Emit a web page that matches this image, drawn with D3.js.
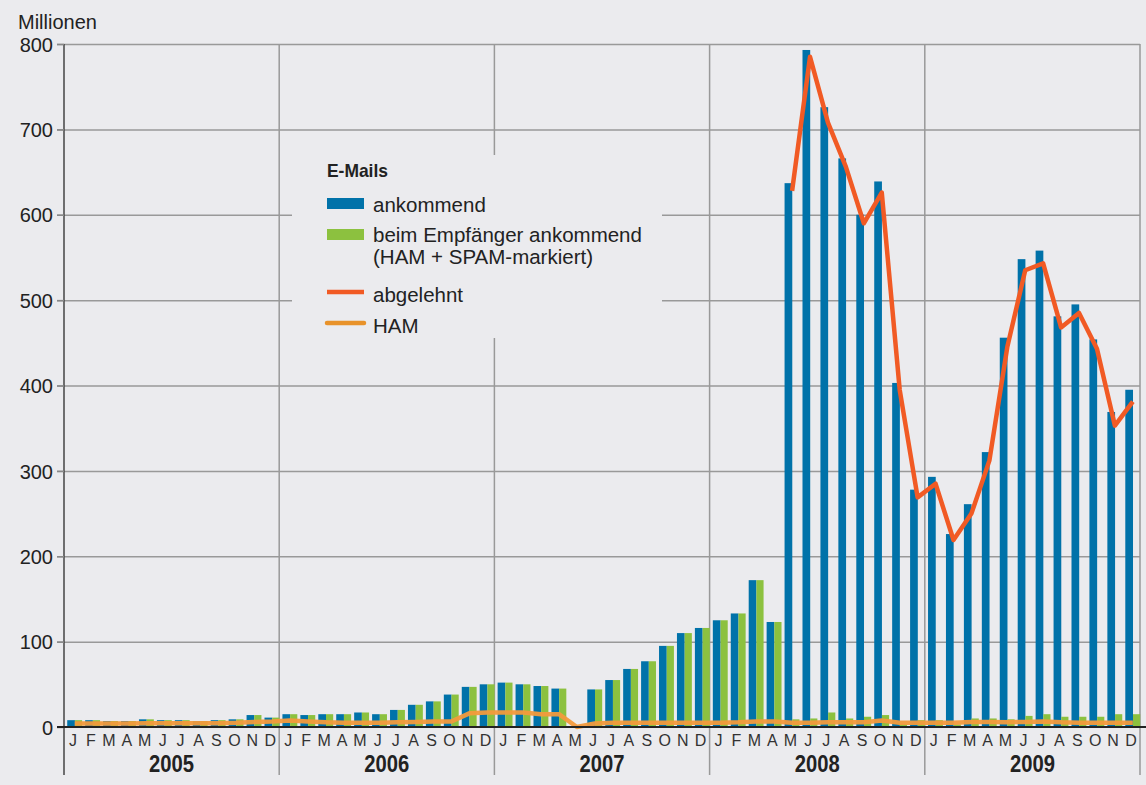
<!DOCTYPE html>
<html>
<head>
<meta charset="utf-8">
<script src="https://cdn.jsdelivr.net/npm/d3@7"></script>
<style>
  body { margin: 0; background: #ebebee; }
  svg { display: block; font-family: "Liberation Sans", Arial, sans-serif; }
  .narrow { font-family: "Liberation Sans Narrow", "Liberation Sans", Arial, sans-serif; font-stretch: condensed; }
</style>
</head>
<body>
<svg id="chart" width="1146" height="785"></svg>
<script>
const years = ["2005", "2006", "2007", "2008", "2009"];
const monthLetters = ["J", "F", "M", "A", "M", "J", "J", "A", "S", "O", "N", "D"];
const yTicks = [0, 100, 200, 300, 400, 500, 600, 700, 800];

// ankommend (Mio.)
const ankommend = [
  8, 8, 7, 7, 9, 8, 8, 7, 8, 9, 14, 11,
  15, 14, 15, 15, 17, 15, 20, 26, 30, 38, 47, 50,
  52, 50, 48, 45, 0, 44, 55, 68, 77, 95, 110, 116,
  125, 133, 172, 123, 637, 793, 726, 666, 600, 639, 403, 278,
  293, 226, 261, 322, 456, 548, 558, 481, 495, 454, 369, 395
];
// beim Empfänger ankommend (HAM + SPAM-markiert)
const beimEmpfaenger = [
  8, 8, 7, 7, 9, 8, 8, 7, 8, 9, 14, 11,
  15, 14, 15, 15, 17, 15, 20, 26, 30, 38, 47, 50,
  52, 50, 48, 45, 0, 44, 55, 68, 77, 95, 110, 116,
  125, 133, 172, 123, 9, 10, 17, 10, 12, 14, 3, 8,
  8, 3, 10, 10, 9, 13, 15, 12, 12, 12, 15, 15
];
// abgelehnt, erst ab Mai 2008
const abgelehnt = [
  null, null, null, null, null, null, null, null, null, null, null, null,
  null, null, null, null, null, null, null, null, null, null, null, null,
  null, null, null, null, null, null, null, null, null, null, null, null,
  null, null, null, null, 628, 785, 708, 656, 590, 626, 395, 269,
  285, 219, 250, 312, 445, 535, 543, 468, 485, 443, 353, 381
];
const ham = [
  4, 4, 4, 4, 4.5, 4.5, 4.5, 4.5, 4.5, 5, 6, 6.5,
  7.5, 6.5, 5.5, 5, 5, 5, 5.5, 6, 6.5, 6.5, 16, 17,
  17, 17, 15, 15, 0, 4, 5, 5, 5, 5, 5, 5,
  5, 5.5, 6.5, 6.5, 5, 5, 5.5, 5.5, 5.5, 7.5, 5, 5,
  5, 5, 6, 6, 5.5, 6, 6.5, 5.5, 5, 5, 5, 5
];

const blue = "#0072a9", green = "#8cc13f", red = "#f15a24", orange = "#f39a3c";
const svg = d3.select("#chart");
const plotLeft = 64, plotRight = 1140, plotTop = 44, plotBottom = 727;

const idx = d3.range(ankommend.length);
const x = d3.scaleBand().domain(idx).range([plotLeft, plotRight]).padding(0);
const bw = x.bandwidth();
const xYear = d3.scaleBand().domain(years).range([plotLeft, plotRight]);
const y = d3.scaleLinear().domain([0, 800]).range([plotBottom, plotTop]);

// grid
svg.append("g")
  .attr("transform", `translate(${plotRight},0)`)
  .call(d3.axisLeft(y).tickValues(yTicks.slice(1)).tickSize(plotRight - plotLeft + 7).tickFormat(""))
  .call(g => g.select(".domain").remove())
  .call(g => g.selectAll("line").attr("stroke", "#999").attr("stroke-width", 1.5));

svg.append("g")
  .selectAll("line")
  .data(years.map(d => xYear(d)).concat([plotRight]))
  .join("line")
  .attr("x1", d => d).attr("x2", d => d)
  .attr("y1", plotTop).attr("y2", 775)
  .attr("stroke", (d, i) => i === 0 ? "#444" : "#999")
  .attr("stroke-width", 1.5);

// legend background covers the grid
svg.append("rect")
  .attr("x", 292).attr("y", 155).attr("width", 370).attr("height", 183)
  .attr("fill", "#ebebee");

// y axis labels
svg.append("g")
  .attr("transform", `translate(${plotLeft},0)`)
  .call(d3.axisLeft(y).tickValues(yTicks).tickSize(7).tickPadding(4))
  .call(g => g.select(".domain").remove())
  .call(g => g.selectAll("line").attr("stroke", "#888").attr("stroke-width", 1.5))
  .call(g => g.selectAll("text").attr("font-size", 20).attr("fill", "#222").attr("dy", "0.36em"));

svg.append("text").attr("x", 18).attr("y", 29)
  .attr("font-size", 20).attr("fill", "#222").text("Millionen");

// bars
svg.append("g").selectAll("rect")
  .data(idx)
  .join("rect")
  .attr("x", i => x(i) + bw * 0.18)
  .attr("width", bw * 0.43)
  .attr("y", i => y(ankommend[i]))
  .attr("height", i => y(0) - y(ankommend[i]))
  .attr("fill", blue);

svg.append("g").selectAll("rect")
  .data(idx)
  .join("rect")
  .attr("x", i => x(i) + bw * 0.61)
  .attr("width", bw * 0.4)
  .attr("y", i => y(beimEmpfaenger[i]))
  .attr("height", i => y(0) - y(beimEmpfaenger[i]))
  .attr("fill", green);

// x axis
svg.append("g")
  .attr("class", "narrow")
  .attr("transform", `translate(0,${plotBottom})`)
  .call(d3.axisBottom(x).tickSize(0).tickPadding(8).tickFormat(i => monthLetters[i % 12]))
  .call(g => g.select(".domain").remove())
  .call(g => g.selectAll("text").attr("font-size", 16).attr("fill", "#333"));

svg.append("g")
  .attr("class", "narrow")
  .selectAll("text")
  .data(years)
  .join("text")
  .attr("x", d => xYear(d) + xYear.bandwidth() / 2)
  .attr("y", 772)
  .attr("text-anchor", "middle")
  .attr("font-size", 24)
  .attr("font-weight", "bold")
  .attr("fill", "#222")
  .attr("textLength", 45)
  .attr("lengthAdjust", "spacingAndGlyphs")
  .text(d => d);

// lines
const line = arr => d3.line()
  .defined(i => arr[i] !== null)
  .x(i => x(i) + bw * 0.6)
  .y(i => y(arr[i]))(idx);

svg.append("path")
  .attr("d", line(ham))
  .attr("fill", "none").attr("stroke", orange).attr("stroke-width", 4.5)
  .attr("stroke-linejoin", "round").attr("opacity", 0.95);

svg.append("line")
  .attr("x1", 57).attr("x2", 1146).attr("y1", plotBottom).attr("y2", plotBottom)
  .attr("stroke", "#222").attr("stroke-width", 2);

svg.append("path")
  .attr("d", line(abgelehnt))
  .attr("fill", "none").attr("stroke", red).attr("stroke-width", 4.5)
  .attr("stroke-linejoin", "round");

// legend
const lg = svg.append("g").attr("font-size", 20.5).attr("fill", "#222");
lg.append("text").attr("x", 327).attr("y", 177)
  .attr("class", "narrow")
  .attr("font-weight", "bold").attr("font-size", 19)
  .attr("textLength", 61)
  .attr("lengthAdjust", "spacingAndGlyphs")
  .text("E-Mails");
lg.append("rect").attr("x", 327).attr("y", 198).attr("width", 37).attr("height", 11).attr("fill", blue);
lg.append("text").attr("x", 373).attr("y", 212).text("ankommend");
lg.append("rect").attr("x", 327).attr("y", 229).attr("width", 37).attr("height", 11).attr("fill", green);
lg.append("text").attr("x", 373).attr("y", 242).text("beim Empfänger ankommend");
lg.append("text").attr("x", 373).attr("y", 264).text("(HAM + SPAM-markiert)");
lg.append("line").attr("x1", 327).attr("x2", 364).attr("y1", 292).attr("y2", 292)
  .attr("stroke", red).attr("stroke-width", 4.5);
lg.append("text").attr("x", 373).attr("y", 302).text("abgelehnt");
lg.append("line").attr("x1", 327).attr("x2", 364).attr("y1", 323).attr("y2", 323)
  .attr("stroke", "#e8922a").attr("stroke-width", 4.5).attr("stroke-linecap", "round");
lg.append("text").attr("x", 373).attr("y", 333).text("HAM");
</script>
</body>
</html>
